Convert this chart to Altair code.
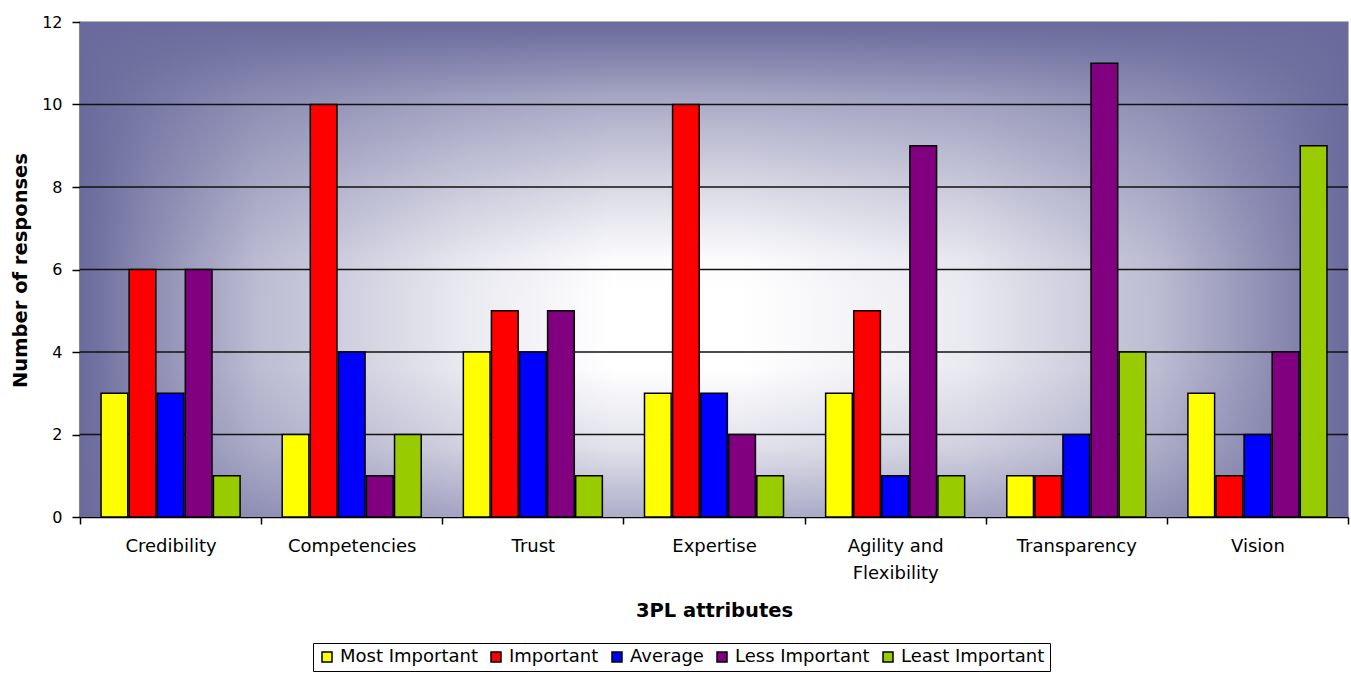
import altair as alt
import pandas as pd

# Survey responses per 3PL attribute, by importance rating
attributes = ["Credibility", "Competencies", "Trust", "Expertise",
              "Agility and Flexibility", "Transparency", "Vision"]
levels = ["Most Important", "Important", "Average", "Less Important", "Least Important"]
most_important = [3, 2, 4, 3, 3, 1, 3]
important = [6, 10, 5, 10, 5, 1, 1]
average = [3, 4, 4, 3, 1, 2, 2]
less_important = [6, 1, 5, 2, 9, 11, 4]
least_important = [1, 2, 1, 1, 1, 4, 9]
level_colors = ["#FFFF00", "#FF0000", "#0000FF", "#800080", "#99CC00"]
y_ticks = [0, 2, 4, 6, 8, 10, 12]
grid_lines = [2, 4, 6, 8, 10]

series = [most_important, important, average, less_important, least_important]
rows = []
for level, values in zip(levels, series):
    for attr, v in zip(attributes, values):
        rows.append({"attribute": attr, "level": level, "count": v})
df = pd.DataFrame(rows)

W, H = 1268, 495
FONT = "DejaVu Sans"
DARK = "106,106,156"


def dark(alpha):
    return f"rgba({DARK},{alpha})"


def stops(pairs):
    return [alt.GradientStop(offset=o, color=dark(a)) for o, a in pairs]


one = pd.DataFrame({"k": [0]})
full = dict(x=alt.value(0), x2=alt.value(W), y=alt.value(0), y2=alt.value(H))

# Background: white base shaded towards the edges (centre-out rectangular fade)
base = alt.Chart(one).mark_rect(fill="white").encode(**full)
shade_v = alt.Chart(one).mark_rect(
    fill=alt.LinearGradient(
        gradient="linear", x1=0, y1=0, x2=0, y2=1,
        stops=stops([(0, 1), (0.08, 0.8), (0.17, 0.55), (0.32, 0.28),
                     (0.48, 0.02), (0.55, 0), (0.7, 0), (0.86, 0.2), (1, 0.55)]),
    )
).encode(**full)
shade_h = alt.Chart(one).mark_rect(
    fill=alt.LinearGradient(
        gradient="linear", x1=0, y1=0, x2=1, y2=0,
        stops=stops([(0, 1), (0.06, 0.75), (0.14, 0.45), (0.3, 0.15), (0.42, 0),
                     (0.52, 0), (0.7, 0.15), (0.85, 0.45), (0.95, 0.8), (1, 1)]),
    )
).encode(**full)

y_scale = alt.Scale(domain=[0, 12], nice=False)

# Horizontal grid lines sit between the background and the bars
grid = alt.Chart(pd.DataFrame({"count": grid_lines})).mark_rule(
    color="#111111", strokeWidth=1.5
).encode(y=alt.Y("count:Q", scale=y_scale))

bars = alt.Chart(df).mark_bar(stroke="black", strokeWidth=1.5).encode(
    x=alt.X(
        "attribute:N", sort=attributes,
        scale=alt.Scale(paddingInner=0, paddingOuter=0),
        axis=alt.Axis(
            title="3PL attributes", labelAngle=0, tickBand="extent",
            tickSize=7, tickColor="black", tickWidth=1.5,
            domainColor="black", domainWidth=1.5,
            labelFont=FONT, labelFontSize=18, labelColor="black",
            labelPadding=13, labelLineHeight=27,
            labelExpr="datum.label == 'Agility and Flexibility' ? ['Agility and', 'Flexibility'] : datum.label",
            titleFont=FONT, titleFontSize=19.5, titleFontWeight="bold", titleColor="black",
            titleY=93, titleBaseline="middle",
        ),
    ),
    xOffset=alt.XOffset("level:N", sort=levels,
                        scale=alt.Scale(paddingInner=0.05, paddingOuter=0.75)),
    y=alt.Y(
        "count:Q", scale=y_scale,
        axis=alt.Axis(
            title="Number of responses", values=y_ticks, grid=False,
            tickSize=8, tickColor="black", tickWidth=1.5,
            domainColor="black", domainWidth=1.5,
            labelFont=FONT, labelFontSize=16, labelColor="black", labelPadding=10,
            titleFont=FONT, titleFontSize=19.5, titleFontWeight="bold", titleColor="black",
            titleX=-60, titleY=248, titleAngle=270, titleBaseline="middle", titleAlign="center",
        ),
    ),
    color=alt.Color(
        "level:N", sort=levels,
        scale=alt.Scale(domain=levels, range=level_colors),
        legend=alt.Legend(
            title=None, orient="none", legendX=233, legendY=621,
            direction="horizontal", symbolType="square", symbolSize=100,
            symbolStrokeColor="black", symbolStrokeWidth=1.5,
            labelFont=FONT, labelFontSize=18, labelColor="black",
            labelOffset=4, columnPadding=9, padding=5,
            strokeColor="black", fillColor="white",
        ),
    ),
)

chart = alt.layer(base, shade_v, shade_h, grid, bars).properties(
    width=W, height=H,
    autosize=alt.AutoSizeParams(type="none"),
    padding={"left": 80, "top": 22, "right": 3, "bottom": 158},
    background="white",
).configure_view(stroke="#9a9a9a", strokeWidth=1.5)

chart.save("out.html", embed_options={"renderer": "svg", "actions": False})
